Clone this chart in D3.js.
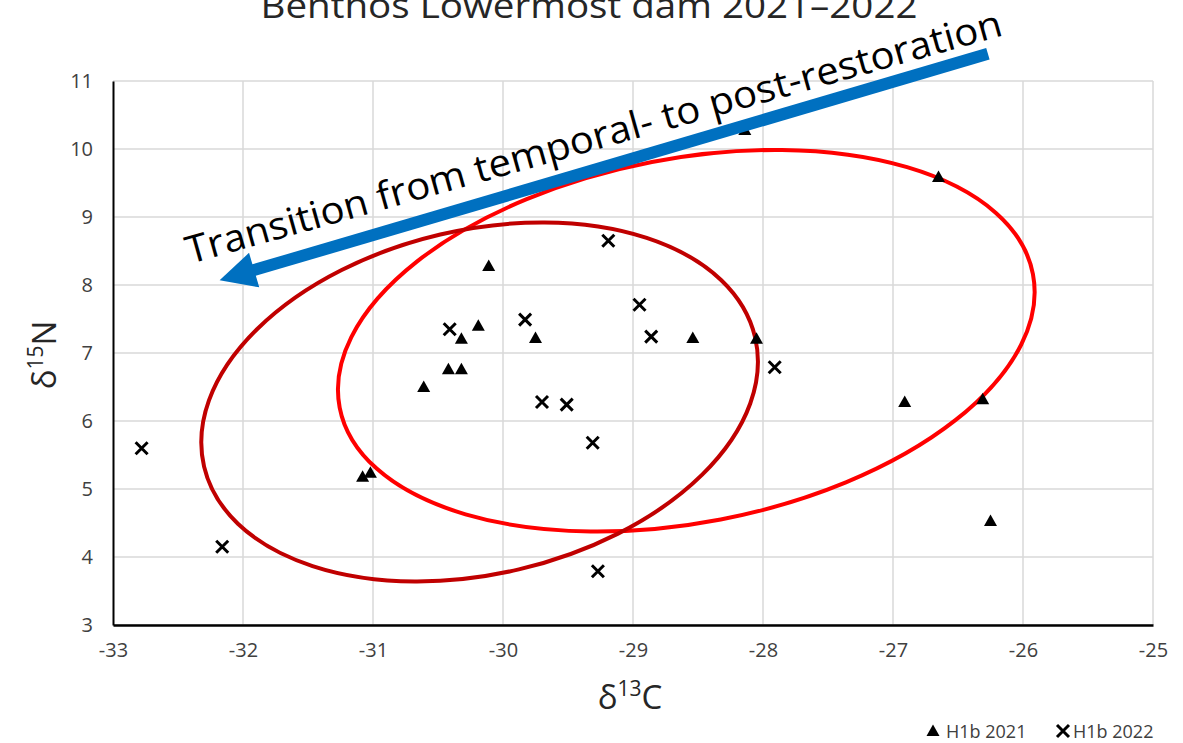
<!DOCTYPE html>
<html>
<head>
<meta charset="utf-8">
<script src="https://cdn.jsdelivr.net/npm/d3@7"></script>
<style>
  html, body { margin: 0; padding: 0; background: #fff; }
  svg { display: block; font-family: "Open Sans", "Noto Sans", sans-serif; }
</style>
</head>
<body>
<div id="chart"></div>
<script>
'use strict';

// H1b 2021 (triangles)
const x2021 = [-28.14, -26.65, -30.11, -30.19, -30.32, -29.75, -28.54, -28.05, -30.42, -30.32, -30.61, -31.08, -31.02, -26.91, -26.31, -26.25];
const y2021 = [10.28, 9.59, 8.28, 7.40, 7.21, 7.22, 7.22, 7.21, 6.76, 6.76, 6.50, 5.18, 5.24, 6.28, 6.32, 4.53];

// H1b 2022 (crosses)
const x2022 = [-32.78, -32.16, -30.41, -29.83, -29.70, -29.51, -29.31, -29.27, -29.19, -28.95, -28.86, -27.91];
const y2022 = [5.60, 4.15, 7.35, 7.49, 6.28, 6.24, 5.68, 3.79, 8.65, 7.71, 7.24, 6.79];

const xTicks = [-33, -32, -31, -30, -29, -28, -27, -26, -25];
const yTicks = [3, 4, 5, 6, 7, 8, 9, 10, 11];

// ellipse centres (data units)
const ellipseNames = ['2021', '2022'];
const ellipseCx = [-28.59, -30.18];
const ellipseCy = [7.18, 6.28];

// arrow annotation, data units: start -> tip
const arrowX = [-26.27, -32.18];
const arrowY = [11.40, 8.07];
const noteText = 'Transition from temporal- to post-restoration';

const width = 1183, height = 743;
const margin = {left: 113, right: 30, top: 81, bottom: 118};

const svg = d3.select('#chart').append('svg')
  .attr('width', width)
  .attr('height', height);

const x = d3.scaleLinear().domain([-33, -25]).range([margin.left, width - margin.right]);
const y = d3.scaleLinear().domain([3, 11]).range([height - margin.bottom, margin.top]);

// grid
svg.append('g').selectAll('line.h')
  .data(yTicks)
  .join('line')
  .attr('x1', x(-33)).attr('x2', x(-25))
  .attr('y1', d => y(d)).attr('y2', d => y(d))
  .attr('stroke', '#d9d9d9').attr('stroke-width', 1.5);
svg.append('g').selectAll('line.v')
  .data(xTicks.slice(1))
  .join('line')
  .attr('x1', d => x(d)).attr('x2', d => x(d))
  .attr('y1', y(3)).attr('y2', y(11))
  .attr('stroke', '#d9d9d9').attr('stroke-width', 1.5);

// axes (plain hyphen minus, like the original)
const fmt = d => String(d);
const xAxis = svg.append('g')
  .attr('transform', `translate(0,${y(3)})`)
  .call(d3.axisBottom(x).tickValues(xTicks).tickSize(0).tickPadding(18).tickFormat(fmt));
const yAxis = svg.append('g')
  .attr('transform', `translate(${x(-33)},0)`)
  .call(d3.axisLeft(y).tickValues(yTicks).tickSize(0).tickPadding(20).tickFormat(fmt));
xAxis.select('.domain').attr('stroke', '#000').attr('stroke-width', 2.5);
yAxis.select('.domain').attr('stroke', '#000').attr('stroke-width', 2);
[xAxis, yAxis].forEach(a => a.selectAll('text')
  .attr('fill', '#404040').style('font-size', '20px').style('font-family', '"Open Sans", sans-serif'));

// ellipses
const ellipseStyle = {
  '2021': {a: 353, b: 182, rot: -10.9, color: '#ff0000'},
  '2022': {a: 283, b: 172, rot: -13.2, color: '#c00000'}
};
svg.append('g').selectAll('ellipse')
  .data(ellipseNames.map((n, i) => ({n, cx: ellipseCx[i], cy: ellipseCy[i]})))
  .join('ellipse')
  .attr('transform', d => `translate(${x(d.cx)},${y(d.cy)}) rotate(${ellipseStyle[d.n].rot})`)
  .attr('rx', d => ellipseStyle[d.n].a)
  .attr('ry', d => ellipseStyle[d.n].b)
  .attr('fill', 'none')
  .attr('stroke', d => ellipseStyle[d.n].color)
  .attr('stroke-width', 4);

// markers
const triPath = 'M0,-6.5L6.5,5L-6.5,5Z';
const crossPath = 'M-6,-6L6,6M-6,6L6,-6';

svg.append('g').selectAll('path')
  .data(x2021.map((v, i) => [v, y2021[i]]))
  .join('path')
  .attr('transform', d => `translate(${x(d[0])},${y(d[1])})`)
  .attr('d', triPath)
  .attr('fill', '#000');

svg.append('g').selectAll('path')
  .data(x2022.map((v, i) => [v, y2022[i]]))
  .join('path')
  .attr('transform', d => `translate(${x(d[0])},${y(d[1])})`)
  .attr('d', crossPath)
  .attr('stroke', '#000')
  .attr('stroke-width', 3)
  .attr('fill', 'none');

// arrow
const x0 = x(arrowX[0]), y0 = y(arrowY[0]);
const x1 = x(arrowX[1]), y1 = y(arrowY[1]);
const ang = Math.atan2(y1 - y0, x1 - x0);
const headLen = 36, headHalf = 18;
const bx = x1 - headLen * Math.cos(ang), by = y1 - headLen * Math.sin(ang);
svg.append('line')
  .attr('x1', x0).attr('y1', y0)
  .attr('x2', bx + 2 * Math.cos(ang)).attr('y2', by + 2 * Math.sin(ang))
  .attr('stroke', '#0070c0').attr('stroke-width', 12);
svg.append('path')
  .attr('d', `M${x1},${y1}L${bx - headHalf * Math.sin(ang)},${by + headHalf * Math.cos(ang)}L${bx + headHalf * Math.sin(ang)},${by - headHalf * Math.cos(ang)}Z`)
  .attr('fill', '#0070c0');

// annotation text
svg.append('text')
  .attr('transform', 'translate(190,264) rotate(-15.7)')
  .attr('textLength', 846)
  .attr('lengthAdjust', 'spacingAndGlyphs')
  .style('font-size', '38px')
  .attr('fill', '#000')
  .text(noteText);

// title (cut at the top, as in the original)
svg.append('text')
  .attr('x', 589).attr('y', 18)
  .attr('text-anchor', 'middle')
  .attr('textLength', 657)
  .attr('lengthAdjust', 'spacingAndGlyphs')
  .style('font-size', '35px')
  .attr('fill', '#262626')
  .text('Benthos Lowermost dam 2021–2022');

// axis titles
const xt = svg.append('text')
  .attr('x', 630).attr('y', 709)
  .attr('text-anchor', 'middle')
  .style('font-size', '33px')
  .attr('fill', '#262626');
xt.append('tspan').text('δ');
xt.append('tspan').attr('dy', -13).style('font-size', '21px').text('13');
xt.append('tspan').attr('dy', 13).text('C');

const yt = svg.append('text')
  .attr('transform', 'translate(56,355) rotate(-90)')
  .attr('text-anchor', 'middle')
  .style('font-size', '33px')
  .attr('fill', '#262626');
yt.append('tspan').text('δ');
yt.append('tspan').attr('dy', -13).style('font-size', '21px').text('15');
yt.append('tspan').attr('dy', 13).text('N');

// legend
const lg = svg.append('g').style('font-size', '18px').attr('fill', '#404040');
lg.append('path').attr('transform', 'translate(933,731)').attr('d', triPath).attr('fill', '#000');
lg.append('text').attr('x', 946).attr('y', 738).text('H1b 2021');
lg.append('path').attr('transform', 'translate(1063,731)').attr('d', crossPath)
  .attr('stroke', '#000').attr('stroke-width', 3).attr('fill', 'none');
lg.append('text').attr('x', 1073).attr('y', 738).text('H1b 2022');
</script>
</body>
</html>
